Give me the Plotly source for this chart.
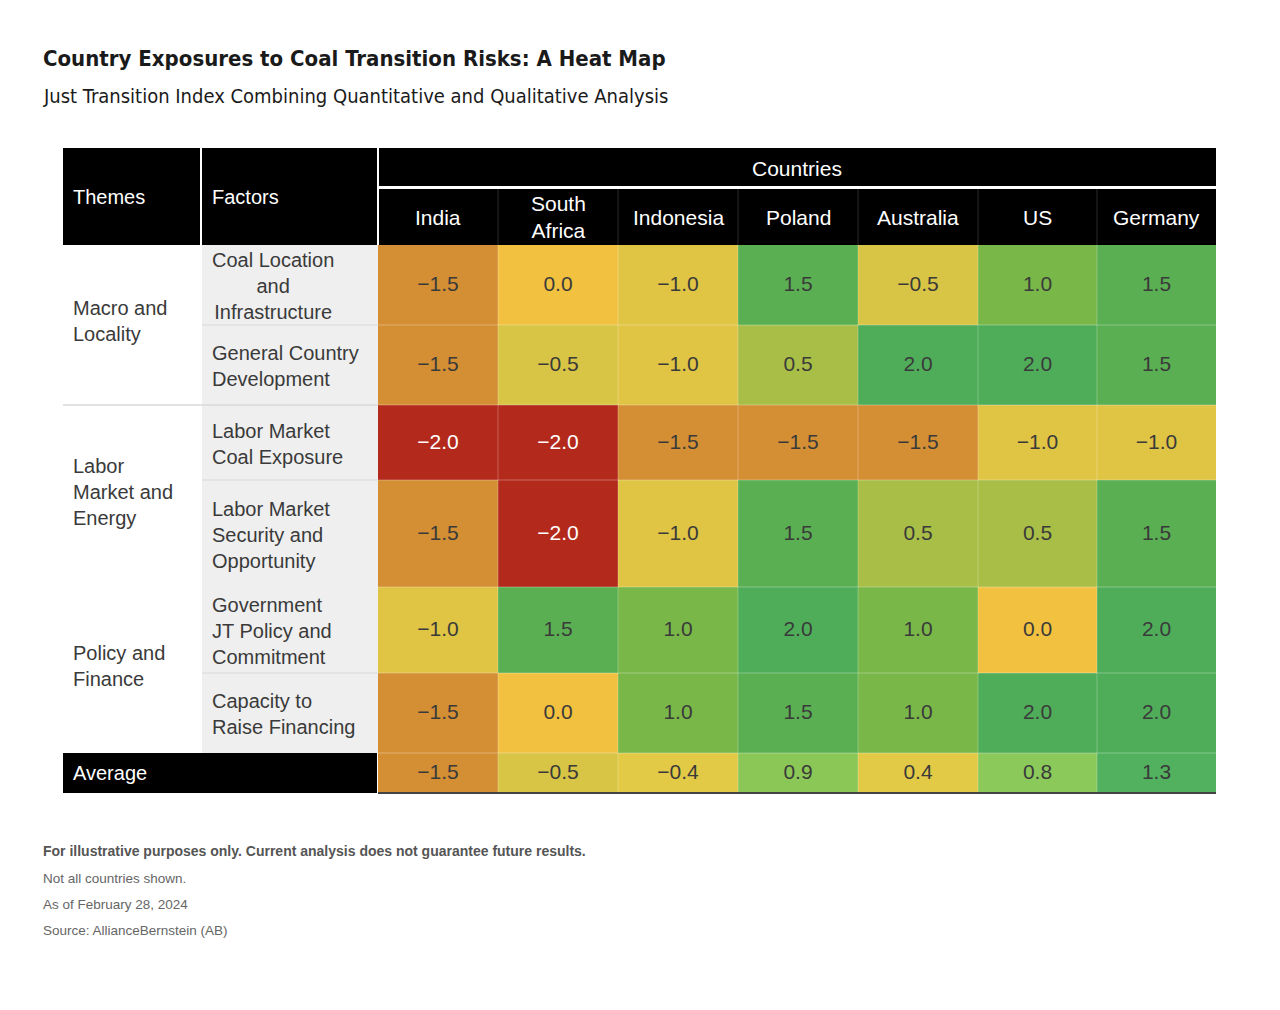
import plotly.graph_objects as go

# table content
countries = ["India", "South<br>Africa", "Indonesia", "Poland", "Australia", "US", "Germany"]
themes = ["Macro and<br>Locality", "Labor<br>Market and<br>Energy", "Policy and<br>Finance"]
factors = [
    "Coal Location<br>and<br>Infrastructure",
    "General Country<br>Development",
    "Labor Market<br>Coal Exposure",
    "Labor Market<br>Security and<br>Opportunity",
    "Government<br>JT Policy and<br>Commitment",
    "Capacity to<br>Raise Financing",
]
scores = [
    [-1.5, 0.0, -1.0, 1.5, -0.5, 1.0, 1.5],
    [-1.5, -0.5, -1.0, 0.5, 2.0, 2.0, 1.5],
    [-2.0, -2.0, -1.5, -1.5, -1.5, -1.0, -1.0],
    [-1.5, -2.0, -1.0, 1.5, 0.5, 0.5, 1.5],
    [-1.0, 1.5, 1.0, 2.0, 1.0, 0.0, 2.0],
    [-1.5, 0.0, 1.0, 1.5, 1.0, 2.0, 2.0],
]
averages = [-1.5, -0.5, -0.4, 0.9, 0.4, 0.8, 1.3]

# colours per score
score_colors = {
    -2.0: "#b32a1c", -1.5: "#d48f34", -1.0: "#e0c444", -0.5: "#d8c445",
    0.0: "#f2c140", 0.5: "#a9be46", 1.0: "#79b749", 1.5: "#5aaf52", 2.0: "#4fad5a",
}
avg_colors = ["#d48f34", "#d8c445", "#e2c946", "#8bc756", "#e2ca46", "#8bca5a", "#52b15e"]

# layout in page pixels
col_edges = [378, 498, 618, 738, 858, 978, 1097, 1216]
row_edges = [245, 325, 405, 480, 587, 673, 753, 793]
theme_x, factor_x, right_x = 63, 201, 1216
theme_rows = [(245, 405), (405, 587), (587, 753)]
page_off = 8  # the page body margin

font = "Liberation Sans, Arial, sans-serif"
cond = "DejaVu Sans Condensed, Liberation Sans Narrow, sans-serif"
txt = "#3a3a3a"

# build colour index grid
palette = []
grid = []
for r, row in enumerate(scores + [averages]):
    line = []
    for c, v in enumerate(row):
        col = avg_colors[c] if r == len(scores) else score_colors[v]
        if col not in palette:
            palette.append(col)
        line.append(palette.index(col))
    grid.append(line)
n = len(palette)
colorscale = [[i / (n - 1), palette[i]] for i in range(n)]

fig = go.Figure()
fig.add_trace(go.Heatmap(
    x=col_edges, y=row_edges, z=grid,
    colorscale=colorscale, zmin=0, zmax=n - 1,
    showscale=False, hoverinfo="skip",
))

# value labels
xs, ys, labels, tcols = [], [], [], []
for r, row in enumerate(scores + [averages]):
    for c, v in enumerate(row):
        xs.append((col_edges[c] + col_edges[c + 1]) / 2)
        ys.append((row_edges[r] + row_edges[r + 1]) / 2 + 1)
        labels.append(f"{v:.1f}".replace("-", "\u2212"))
        tcols.append("white" if v <= -2.0 else txt)
fig.add_trace(go.Scatter(
    x=xs, y=ys, text=labels, mode="text",
    textfont=dict(family=font, size=21, color=tcols),
    hoverinfo="skip", showlegend=False,
))

shapes = []
# faint separators inside the coloured block
for x in col_edges[1:-1]:
    shapes.append(dict(type="line", x0=x, x1=x, y0=row_edges[0], y1=row_edges[-1],
                       line=dict(color="rgba(255,255,255,0.25)", width=1)))
for y in row_edges[1:-1]:
    shapes.append(dict(type="line", x0=col_edges[0], x1=right_x, y0=y, y1=y,
                       line=dict(color="rgba(255,255,255,0.3)", width=1)))

# factor column background
shapes.append(dict(type="rect", x0=factor_x + 1, x1=col_edges[0], y0=row_edges[0], y1=row_edges[-2],
                   fillcolor="#efefef", line=dict(width=0), layer="below"))
for y in [325, 480, 673]:
    shapes.append(dict(type="line", x0=factor_x + 1, x1=col_edges[0], y0=y, y1=y,
                       line=dict(color="#d9d9d9", width=1)))
shapes.append(dict(type="line", x0=theme_x, x1=col_edges[0], y0=405, y1=405,
                   line=dict(color="#d9d9d9", width=1.5)))

# header boxes
shapes += [
    dict(type="rect", x0=theme_x, x1=factor_x - 1, y0=148, y1=245, fillcolor="black", line=dict(width=0)),
    dict(type="rect", x0=factor_x + 1, x1=col_edges[0] - 1, y0=148, y1=245, fillcolor="black", line=dict(width=0)),
    dict(type="rect", x0=col_edges[0] + 1, x1=right_x, y0=148, y1=186, fillcolor="black", line=dict(width=0)),
    dict(type="rect", x0=col_edges[0] + 1, x1=right_x, y0=189, y1=245, fillcolor="black", line=dict(width=0)),
    dict(type="rect", x0=theme_x, x1=col_edges[0] - 1, y0=753, y1=793, fillcolor="black", line=dict(width=0)),
    dict(type="line", x0=col_edges[0], x1=right_x, y0=793, y1=793, line=dict(color="#444", width=2)),
]
for x in col_edges[1:-1]:
    shapes.append(dict(type="line", x0=x, x1=x, y0=189, y1=245, line=dict(color="#2a2a2a", width=1)))

ann = []


def label(x, y, text, size=20, color=txt, xanchor="left", align="left", family=font, bold=False):
    if bold:
        text = f"<b>{text}</b>"
    ann.append(dict(x=x, y=y, xref="x", yref="y", text=text, showarrow=False,
                    xanchor=xanchor, yanchor="middle", align=align,
                    font=dict(family=family, size=size, color=color)))


label(theme_x + 8, 197, "Themes", color="white")
label(factor_x + 9, 197, "Factors", color="white")
label((col_edges[0] + right_x) / 2, 168, "Countries", size=21, color="white", xanchor="center")
for c, name in enumerate(countries):
    label((col_edges[c] + col_edges[c + 1]) / 2, 217, name, size=21, color="white",
          xanchor="center", align="center")
for (y0, y1), t in zip(theme_rows, themes):
    label(theme_x + 8, (y0 + y1) / 2 - 4, t)
for r, f in enumerate(factors):
    label(factor_x + 9, (row_edges[r] + row_edges[r + 1]) / 2 + 1, f,
          align="center" if r == 0 else "left")
label(theme_x + 8, 773, "Average", color="white")

# titles and notes
label(41, 58, "Country Exposures to Coal Transition Risks: A Heat Map", size=22, color="#1a1a1a",
      family=cond, bold=True)
label(41, 96, "Just Transition Index Combining Quantitative and Qualitative Analysis", size=20,
      color="#1a1a1a", family=cond)
label(41, 851, "For illustrative purposes only. Current analysis does not guarantee future results.",
      size=14, color="#555", bold=True)
label(41, 878, "Not all countries shown.", size=13.5, color="#666")
label(41, 904, "As of February 28, 2024", size=13.5, color="#666")
label(41, 930, "Source: AllianceBernstein (AB)", size=13.5, color="#666")

fig.update_layout(
    width=1280, height=1010,
    margin=dict(l=0, r=0, t=0, b=0),
    paper_bgcolor="white", plot_bgcolor="white",
    xaxis=dict(range=[page_off, 1280 + page_off], visible=False, fixedrange=True),
    yaxis=dict(range=[1010 + page_off, page_off], visible=False, fixedrange=True),
    shapes=shapes, annotations=ann,
    showlegend=False,
)

fig.write_html("out.html")
